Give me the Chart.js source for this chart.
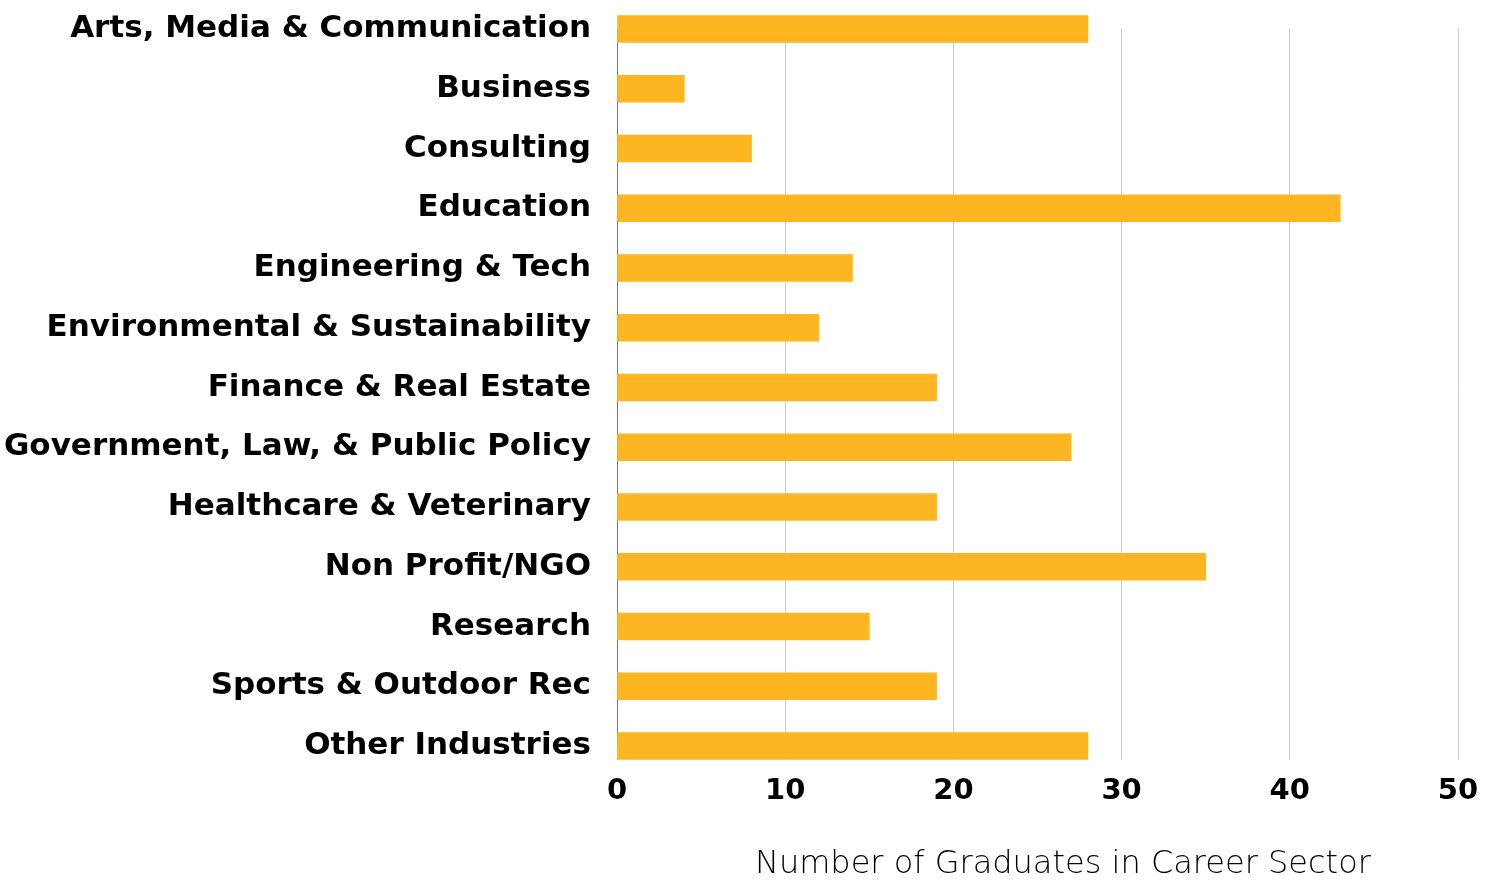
<!DOCTYPE html>
<html>
<head>
<meta charset="utf-8">
<script src="https://cdn.jsdelivr.net/npm/chart.js@4"></script>
<style>
  html, body { margin: 0; padding: 0; background: #fff; }
  #wrap { width: 1497px; height: 889px; position: relative; }
</style>
</head>
<body>
<div id="wrap"><canvas id="sectors"></canvas></div>
<script>
const sectors = [
  'Arts, Media & Communication', 'Business', 'Consulting', 'Education',
  'Engineering & Tech', 'Environmental & Sustainability', 'Finance & Real Estate',
  'Government, Law, & Public Policy', 'Healthcare & Veterinary', 'Non Profit/NGO',
  'Research', 'Sports & Outdoor Rec', 'Other Industries'
];
const graduates = [28, 4, 8, 43, 14, 12, 19, 27, 19, 35, 15, 19, 28];
const xTicks = [0, 10, 20, 30, 40, 50];
const xTitle = 'Number of Graduates in Career Sector';

new Chart(document.getElementById('sectors'), {
  type: 'bar',
  data: {
    labels: sectors,
    datasets: [{
      data: graduates,
      backgroundColor: '#FDB621',   // golden bars
      barThickness: 27,
      clip: false,                  // first/last bars sit on the edge
    }]
  },
  options: {
    indexAxis: 'y',
    responsive: true,
    maintainAspectRatio: false,
    animation: false,
    layout: { padding: { left: 0, right: 39, top: 29, bottom: 5 } },
    plugins: { legend: { display: false }, tooltip: { enabled: false } },
    scales: {
      x: {
        min: 0,
        max: 50,
        afterBuildTicks: s => { s.ticks = xTicks.map(v => ({ value: v })); },
        grid: { color: '#cccccc', tickLength: 14 },
        border: { display: false },
        ticks: {
          color: '#000',
          padding: 14,
          font: { family: 'DejaVu Sans', weight: 'bold', size: 29 }
        },
        title: {
          display: true,
          text: '     ' + xTitle,   // title sits a bit right of centre
          color: '#000',
          padding: 0,
          font: { family: 'DejaVu Sans', weight: '200', size: 32 }
        },
        afterFit: s => { s.height = 138; s.paddingLeft = 0; s.paddingRight = 0; }
      },
      y: {
        offset: false,
        grid: { display: false, drawTicks: false },
        border: { display: true, color: '#777' },
        ticks: {
          color: '#000',
          padding: 26,
          font: { family: 'DejaVu Sans', weight: 'bold', size: 31 }
        },
        afterFit: s => { s.width = 617; s.paddingTop = 0; s.paddingBottom = 0; }
      }
    }
  }
});
</script>
</body>
</html>
